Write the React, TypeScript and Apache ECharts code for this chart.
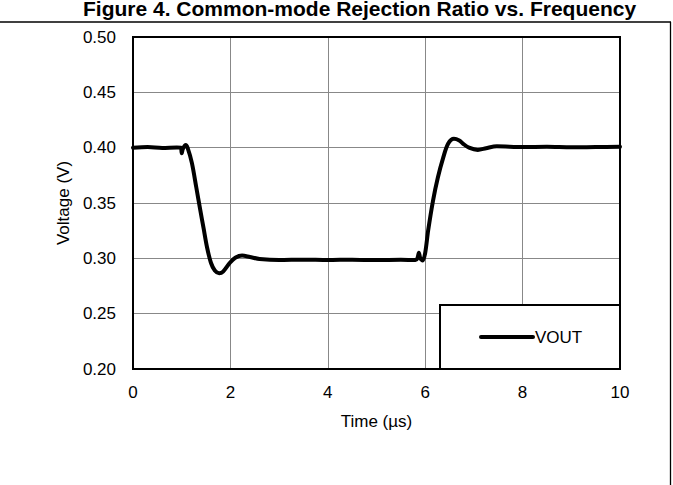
import React, { useEffect, useRef } from "react";
import * as echarts from "echarts";

const TITLE = "Figure 4. Common-mode Rejection Ratio vs. Frequency";
const X_NAME = "Time (µs)";
const Y_NAME = "Voltage (V)";
const SERIES_NAME = "VOUT";

const timeUs = [
  0, 0.3, 0.6, 0.9, 0.98, 1.0, 1.02, 1.05, 1.08, 1.12, 1.21, 1.3, 1.38, 1.45, 1.52,
  1.6, 1.68, 1.77, 1.85, 1.99, 2.1, 2.24, 2.4, 2.6, 3.0, 3.5, 4.0, 4.5, 5.0, 5.5,
  5.8, 5.84, 5.87, 5.9, 5.95, 6.0, 6.06, 6.16, 6.26, 6.37, 6.47, 6.59, 6.7, 6.78,
  6.9, 7.08, 7.25, 7.47, 8.0, 8.5, 9.0, 9.5, 10.0,
];
const voltV = [
  0.4, 0.4005, 0.3998, 0.4002, 0.4, 0.395, 0.3985, 0.401, 0.4025, 0.4, 0.386, 0.364,
  0.344, 0.327, 0.31, 0.296, 0.289, 0.2865, 0.288, 0.296, 0.3005, 0.3025, 0.3012,
  0.2995, 0.2985, 0.2988, 0.2985, 0.2988, 0.2984, 0.2987, 0.2985, 0.3, 0.305, 0.3,
  0.298, 0.305, 0.325, 0.352, 0.373, 0.391, 0.4035, 0.408, 0.4065, 0.4035, 0.4,
  0.398, 0.3995, 0.4012, 0.4005, 0.4008, 0.4003, 0.4006, 0.4008,
];

const X_MIN = 0, X_MAX = 10, X_STEP = 2;
const Y_MIN = 0.2, Y_MAX = 0.5, Y_STEP = 0.05;

export default function App() {
  const ref = useRef<HTMLDivElement>(null);
  useEffect(() => {
    if (!ref.current) return;
    const chart = echarts.init(ref.current, null, { renderer: "svg" });
    const data = timeUs.map((t, i) => [t, voltV[i]]);
    const font = "Arial, 'Liberation Sans', sans-serif";
    chart.setOption({
      animation: false,
      backgroundColor: "#ffffff",
      grid: { left: 133, right: 53, top: 37, bottom: 116, show: false },
      xAxis: {
        type: "value",
        min: X_MIN,
        max: X_MAX,
        interval: X_STEP,
        name: X_NAME,
        nameLocation: "middle",
        nameGap: 44,
        nameTextStyle: { color: "#000", fontSize: 17, fontFamily: font },
        axisLine: { show: false },
        axisTick: { show: false },
        axisLabel: { color: "#000", fontSize: 17, fontFamily: font, margin: 15 },
        splitLine: { show: true, lineStyle: { color: "#888", width: 1 } },
      },
      yAxis: {
        type: "value",
        min: Y_MIN,
        max: Y_MAX,
        interval: Y_STEP,
        name: Y_NAME,
        nameLocation: "middle",
        nameGap: 61,
        nameTextStyle: { color: "#000", fontSize: 17, fontFamily: font },
        axisLine: { show: false },
        axisTick: { show: false },
        axisLabel: {
          color: "#000",
          fontSize: 17,
          fontFamily: font,
          margin: 17,
          formatter: (v: number) => v.toFixed(2),
        },
        splitLine: { show: true, lineStyle: { color: "#888", width: 1 } },
      },
      legend: { show: false },
      series: [
        {
          name: SERIES_NAME,
          type: "line",
          data,
          showSymbol: false,
          smooth: 0.3,
          lineStyle: { color: "#000", width: 4, cap: "round", join: "round" },
          z: 3,
        },
      ],
      graphic: [
        {
          type: "text",
          style: {
            text: TITLE,
            x: 83,
            y: -2.5,
            font: "bold 21px Arial, 'Liberation Sans', sans-serif",
            fill: "#000",
            align: "left",
            verticalAlign: "top",
          },
          z: 10,
        },
        {
          type: "line",
          shape: { x1: 0, y1: 22, x2: 671, y2: 22 },
          style: { stroke: "#000", lineWidth: 1.3 },
          z: 10,
        },
        {
          type: "line",
          shape: { x1: 670.5, y1: 22, x2: 670.5, y2: 485 },
          style: { stroke: "#000", lineWidth: 1.3 },
          z: 10,
        },
        {
          type: "rect",
          shape: { x: 133, y: 37, width: 487, height: 332 },
          style: { fill: "none", stroke: "#000", lineWidth: 2 },
          z: 10,
        },
        {
          type: "rect",
          shape: { x: 440, y: 305, width: 180, height: 64 },
          style: { fill: "#fff", stroke: "#000", lineWidth: 2 },
          z: 11,
        },
        {
          type: "line",
          shape: { x1: 481, y1: 337, x2: 533, y2: 337 },
          style: { stroke: "#000", lineWidth: 4, lineCap: "round" },
          z: 12,
        },
        {
          type: "text",
          style: {
            text: SERIES_NAME,
            x: 535,
            y: 337,
            font: "17px Arial, 'Liberation Sans', sans-serif",
            fill: "#000",
            align: "left",
            verticalAlign: "middle",
          },
          z: 12,
        },
      ],
    });
    return () => chart.dispose();
  }, []);
  return (
    <div
      ref={ref}
      style={{ position: "fixed", left: 0, top: 0, width: 673, height: 485 }}
    />
  );
}
